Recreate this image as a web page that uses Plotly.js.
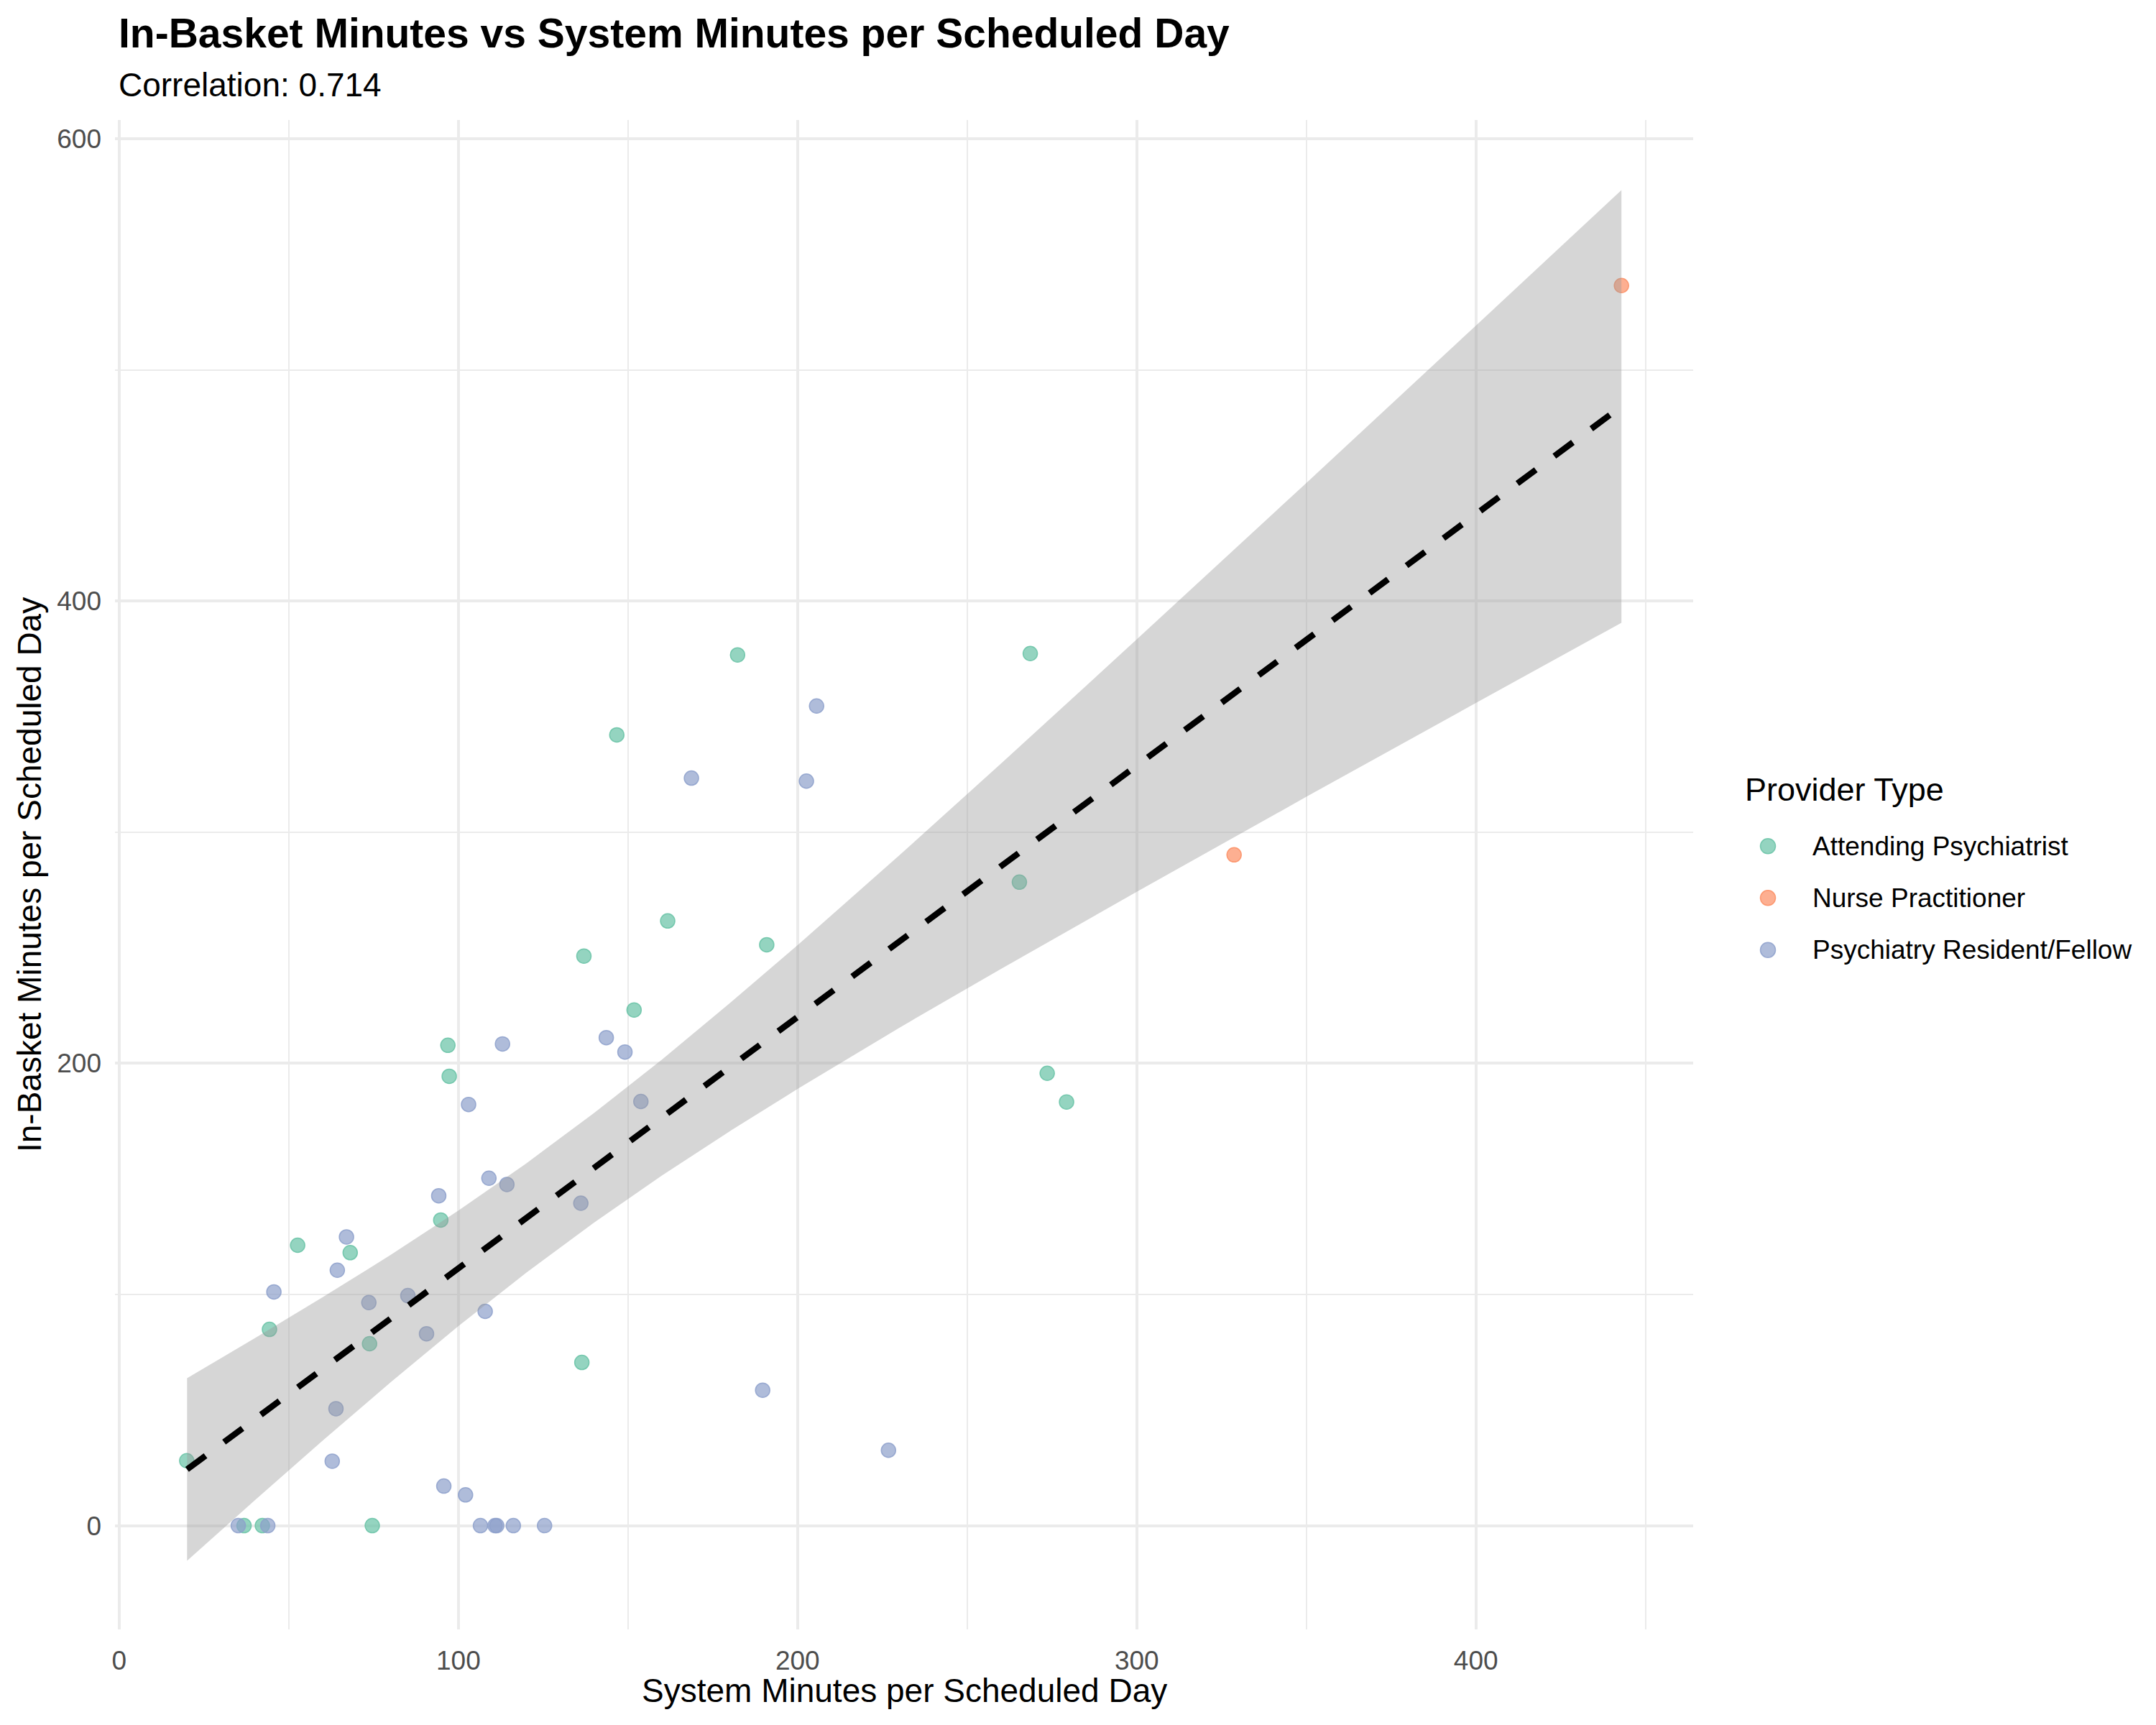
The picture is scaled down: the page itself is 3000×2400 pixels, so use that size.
<!DOCTYPE html>
<html>
<head>
<meta charset="utf-8">
<script src="https://cdn.plot.ly/plotly-3.0.1.min.js"></script>
<style>
  html, body { margin: 0; padding: 0; background: #fff; }
  #chart { width: 3000px; height: 2400px; }
</style>
</head>
<body>
<div id="chart"></div>
<script>
// provider groups (ggplot Set2 colours)
const groupNames = ['Attending Psychiatrist', 'Nurse Practitioner', 'Psychiatry Resident/Fellow'];
const groupColors = ['#66C2A5', '#FC8D62', '#8DA0CB'];

// system minutes / in-basket minutes per scheduled day
const attendX = [19.9, 36.8, 42.2, 74.6, 136.4, 73.8, 44.3, 68.1, 52.6, 94.8, 97.3, 96.9, 151.8, 182.3, 268.6, 146.7, 265.4, 161.7, 190.9, 137.0, 273.6, 279.3];
const attendY = [28.1, 0, 0, 0, 70.6, 78.7, 84.9, 118.1, 121.3, 132.2, 194.4, 207.8, 223.1, 376.7, 377.3, 342.1, 278.4, 261.6, 251.3, 246.4, 195.7, 183.3];

const nurseX = [328.7, 442.9];
const nurseY = [290.2, 536.5];

const residentX = [35.1, 43.8, 106.5, 110.8, 111.3, 116.2, 125.4, 95.7, 102.1, 62.8, 63.9, 90.6, 107.9, 73.6, 85.1, 45.6, 64.3, 67.0, 94.2, 136.1, 109.0, 114.3, 103.0, 153.8, 113.0, 143.6, 149.1, 205.6, 168.7, 202.6, 189.7, 226.8];
const residentY = [0, 0, 0, 0, 0, 0, 0, 17.1, 13.3, 27.9, 50.6, 83.0, 92.7, 96.5, 99.5, 101.1, 110.5, 124.9, 142.7, 139.5, 150.3, 147.6, 182.2, 183.5, 208.4, 211.1, 204.9, 354.6, 323.4, 322.1, 58.6, 32.6];

// linear fit and its 95% band
const fitX     = [20, 40, 60, 80, 100, 120, 140, 160, 180, 200, 230, 260, 300, 350, 400, 442.9];
const fitY     = [24.3, 46.1, 67.8, 89.6, 111.3, 133.1, 154.8, 176.6, 198.3, 220.1, 252.7, 285.3, 328.8, 383.2, 437.6, 484.2];
const fitUpper = [63.8, 81.1, 98.8, 117.1, 136.3, 156.7, 178.5, 201.6, 226.0, 251.1, 290.0, 329.7, 383.4, 451.1, 519.2, 577.8];
const fitLower = [-15.2, 11.0, 36.8, 62.0, 86.3, 109.4, 131.1, 151.5, 170.6, 188.9, 215.4, 240.9, 274.2, 315.3, 355.9, 390.6];

const xTicks = [0, 100, 200, 300, 400];
const yTicks = [0, 200, 400, 600];

const FONT = 'Liberation Sans, Arial, sans-serif';
const W = 3000, H = 2400;
const margin = { l: 160, r: 644, t: 167, b: 133 };
const plotW = W - margin.l - margin.r;
const plotH = H - margin.t - margin.b;

// pixel -> paper helpers for the text laid around the panel
const px = X => (X - margin.l) / plotW;
const py = Y => (H - margin.b - Y) / plotH;

function rgba(hex, a) {
    const n = parseInt(hex.slice(1), 16);
    return `rgba(${(n >> 16) & 255},${(n >> 8) & 255},${n & 255},${a})`;
}

const pointSeries = [
    { x: attendX, y: attendY },
    { x: nurseX, y: nurseY },
    { x: residentX, y: residentY }
];

const pointTraces = pointSeries.map((s, i) => ({
    type: 'scatter',
    mode: 'markers',
    name: groupNames[i],
    x: s.x,
    y: s.y,
    marker: {
        size: 20,
        color: rgba(groupColors[i], 0.7),
        line: { color: rgba(groupColors[i], 0.85), width: 1.5 }
    },
    cliponaxis: false,
    hoverinfo: 'x+y+name'
}));

const bandLower = {
    type: 'scatter',
    mode: 'lines',
    x: fitX,
    y: fitLower,
    line: { width: 0, color: 'rgba(0,0,0,0)' },
    hoverinfo: 'skip',
    showlegend: false
};

const bandUpper = {
    type: 'scatter',
    mode: 'lines',
    x: fitX,
    y: fitUpper,
    fill: 'tonexty',
    fillcolor: 'rgba(153,153,153,0.4)',
    line: { width: 0, color: 'rgba(0,0,0,0)' },
    hoverinfo: 'skip',
    showlegend: false
};

const fitLine = {
    type: 'scatter',
    mode: 'lines',
    x: fitX,
    y: fitY,
    line: { color: '#000000', width: 8.5, dash: '32px,32px' },
    hoverinfo: 'skip',
    showlegend: false
};

// legend drawn by hand so the spacing matches ggplot's key layout
const legendY = [1177.3, 1249.3, 1321.7];
const legendShapes = groupNames.map((g, i) => ({
    type: 'circle',
    xref: 'paper', yref: 'paper',
    xsizemode: 'pixel', ysizemode: 'pixel',
    xanchor: px(2460), yanchor: py(legendY[i]),
    x0: -10.5, x1: 10.5, y0: -10.5, y1: 10.5,
    fillcolor: rgba(groupColors[i], 0.7),
    line: { color: rgba(groupColors[i], 0.85), width: 1.5 }
}));
const legendLabels = groupNames.map((g, i) => ({
    text: g,
    xref: 'paper', yref: 'paper',
    x: px(2520), y: py(legendY[i]),
    xanchor: 'left', yanchor: 'middle',
    showarrow: false,
    font: { family: FONT, size: 37, color: '#000000' }
}));

const annotations = [
    {
        text: '<b>In-Basket Minutes vs System Minutes per Scheduled Day</b>',
        xref: 'paper', yref: 'paper',
        x: px(163), y: py(45.5),
        xanchor: 'left', yanchor: 'middle',
        showarrow: false,
        font: { family: FONT, size: 57, color: '#000000' }
    },
    {
        text: 'Correlation: 0.714',
        xref: 'paper', yref: 'paper',
        x: px(163), y: py(118.4),
        xanchor: 'left', yanchor: 'middle',
        showarrow: false,
        font: { family: FONT, size: 46, color: '#000000' }
    },
    {
        text: 'System Minutes per Scheduled Day',
        xref: 'paper', yref: 'paper',
        x: 0.5, y: py(2351.5),
        xanchor: 'center', yanchor: 'middle',
        showarrow: false,
        font: { family: FONT, size: 46, color: '#000000' }
    },
    {
        text: 'In-Basket Minutes per Scheduled Day',
        xref: 'paper', yref: 'paper',
        x: px(41), y: 0.5,
        xanchor: 'center', yanchor: 'middle',
        textangle: -90,
        showarrow: false,
        font: { family: FONT, size: 46, color: '#000000' }
    },
    {
        text: 'Provider Type',
        xref: 'paper', yref: 'paper',
        x: px(2426), y: py(1098.7),
        xanchor: 'left', yanchor: 'middle',
        showarrow: false,
        font: { family: FONT, size: 45, color: '#000000' }
    },
    ...legendLabels
];

const gridMajor = '#EBEBEB';

const layout = {
    width: W,
    height: H,
    margin: { ...margin, autoexpand: false },
    paper_bgcolor: '#FFFFFF',
    plot_bgcolor: '#FFFFFF',
    showlegend: false,
    font: { family: FONT, color: '#000000' },
    xaxis: {
        range: [-1.25, 464.05],
        tickmode: 'array',
        tickvals: xTicks,
        ticktext: xTicks.map(String),
        ticks: '',
        ticklabelstandoff: 18,
        tickfont: { family: FONT, size: 37, color: '#4D4D4D' },
        showgrid: true,
        gridcolor: gridMajor,
        gridwidth: 4,
        minor: { dtick: 50, tick0: 0, showgrid: true, gridcolor: gridMajor, gridwidth: 2 },
        zeroline: false,
        showline: false,
        fixedrange: true
    },
    yaxis: {
        range: [-44.9, 608.1],
        tickmode: 'array',
        tickvals: yTicks,
        ticktext: yTicks.map(String),
        ticks: '',
        ticklabelstandoff: 18,
        tickfont: { family: FONT, size: 37, color: '#4D4D4D' },
        showgrid: true,
        gridcolor: gridMajor,
        gridwidth: 4,
        minor: { dtick: 100, tick0: 0, showgrid: true, gridcolor: gridMajor, gridwidth: 2 },
        zeroline: false,
        showline: false,
        fixedrange: true
    },
    shapes: legendShapes,
    annotations: annotations
};

const config = { displayModeBar: false, staticPlot: true };

Plotly.newPlot('chart', [...pointTraces, bandLower, bandUpper, fitLine], layout, config);
</script>
</body>
</html>
